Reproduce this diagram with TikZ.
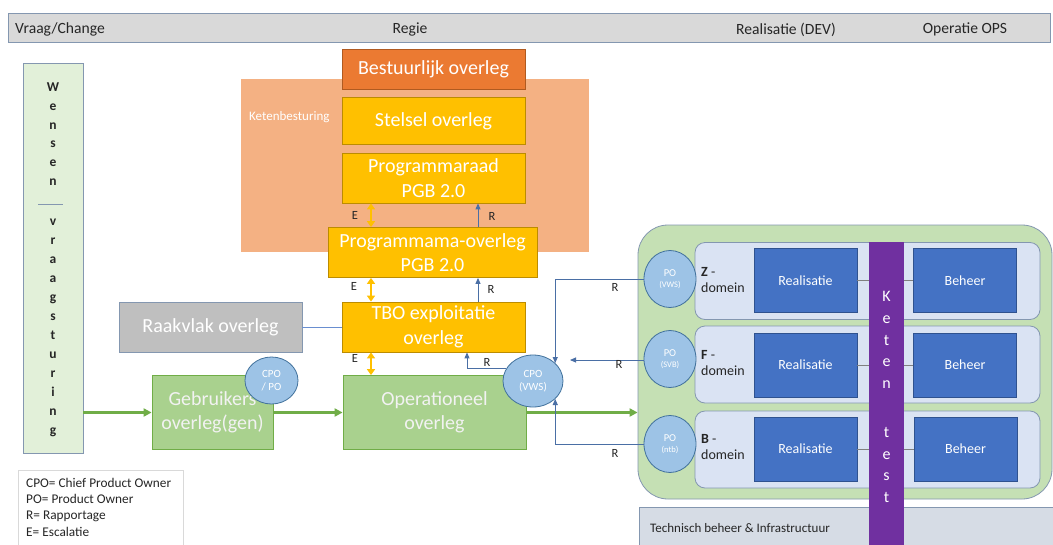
\documentclass[tikz,border=0pt]{standalone}
\usepackage{fontspec}
\setmainfont{Carlito}
\usetikzlibrary{arrows.meta,shapes.geometric}
\definecolor{hdrfill}{HTML}{D9D9D9}
\definecolor{bgray}{HTML}{8497B0}
\definecolor{wensfill}{HTML}{E2F0D9}
\definecolor{ketenbg}{HTML}{F4B183}
\definecolor{orng}{HTML}{EB7A32}
\definecolor{orngdk}{HTML}{B05A20}
\definecolor{yel}{HTML}{FFC000}
\definecolor{yeldk}{HTML}{BC8C00}
\definecolor{gryfill}{HTML}{BFBFBF}
\definecolor{grn}{HTML}{A9D18E}
\definecolor{grndk}{HTML}{70AD47}
\definecolor{circ}{HTML}{9DC3E6}
\definecolor{circdk}{HTML}{41719C}
\definecolor{biggrn}{HTML}{C5E0B4}
\definecolor{rowfill}{HTML}{DAE3F3}
\definecolor{blu}{HTML}{4472C4}
\definecolor{bludk}{HTML}{2F528F}
\definecolor{purp}{HTML}{7030A0}
\definecolor{techfill}{HTML}{D6DCE5}
\definecolor{rline}{HTML}{4A6FA5}
\definecolor{txt}{HTML}{262626}
\begin{document}
\begin{tikzpicture}[x=1pt,y=-1pt,
  fs/.style={font=\fontsize{#1pt}{#1pt}\selectfont},
  box/.style={draw, line width=0.8pt, inner sep=0pt, align=center, text=white, font=\fontsize{20}{24.5}\selectfont},
  ybox/.style={box, fill=yel, draw=yeldk},
  gbox/.style={box, fill=grn, draw=grndk, text=white!95!black},
  circnode/.style={ellipse, draw=circdk, fill=circ, line width=0.8pt, inner sep=0pt, align=center, text=white},
  rowbox/.style={draw=bgray, fill=rowfill, rounded corners=10pt, line width=0.8pt, minimum width=345, minimum height=77, inner sep=0pt},
  bbox/.style={draw=bludk, fill=blu, line width=0.8pt, minimum width=103, minimum height=64, inner sep=0pt, text=white, font=\fontsize{14}{16}\selectfont},
  garrow/.style={draw=grndk, line width=2.4pt, -{Triangle[length=8pt,width=8pt]}},
  earrow/.style={draw=yel, line width=2.2pt, {Triangle[length=6pt,width=8pt]}-{Triangle[length=6pt,width=8pt]}},
  rarrow/.style={draw=rline, line width=0.9pt, -{Triangle[length=6pt,width=5pt]}},
  rlab/.style={text=txt, font=\fontsize{12.5}{14}\selectfont, inner sep=0pt},
  gline/.style={draw=gray, line width=0.9pt}
]
\useasboundingbox (0,0) rectangle (1053,544);
\clip (0,0) rectangle (1053,544);
\fill[white] (0,0) rectangle (1053,544);

% header
\node (hdr) [draw=bgray, fill=hdrfill, line width=0.8pt, minimum width=1042, minimum height=29, inner sep=0pt] at (529,27.5) {};
\node (h1) [anchor=west, text=txt, fs=15.6, inner sep=0pt] at (15,29.5) {Vraag/Change};
\node (h2) [text=txt, fs=15.6, inner sep=0pt] at (410,29.5) {Regie};
\node (h3) [text=txt, fs=15.6, inner sep=0pt] at (786,29.5) {Realisatie (DEV)};
\node (h4) [text=txt, fs=15.6, inner sep=0pt] at (965,29.5) {Operatie OPS};

% wensen
\node (wens) [draw=bgray, fill=wensfill, line width=0.8pt, minimum width=60, minimum height=390, inner sep=0pt] at (53,258) {};
\node (w1) [text=txt, align=center, inner sep=0pt, font=\fontsize{13.5}{18.7}\selectfont\bfseries] at (53,134) {W\\e\\n\\s\\e\\n};
\draw[draw=bgray, line width=0.8pt] (38,204) -- (63,204);
\node (w2) [text=txt, align=center, inner sep=0pt, font=\fontsize{13.5}{19}\selectfont\bfseries] at (53,328) {v\\r\\a\\a\\g\\s\\t\\u\\r\\i\\n\\g};

% ketenbesturing
\node (keten) [fill=ketenbg, minimum width=348, minimum height=173, inner sep=0pt] at (415,165.5) {};
\node (ketlab) [anchor=west, text=white, fs=13, inner sep=0pt] at (249,117) {Ketenbesturing};

\node (best) [box, fill=orng, draw=orngdk, minimum width=183, minimum height=40] at (433.5,69) {Bestuurlijk overleg};
\node (stel) [ybox, minimum width=183, minimum height=47] at (433.5,121) {Stelsel overleg};
\node (praad) [ybox, minimum width=183, minimum height=50] at (433.5,178) {Programmaraad\\PGB 2.0};
\node (pmama) [ybox, minimum width=209, minimum height=50] at (432.5,252.5) {Programmama-overleg\\PGB 2.0};
\node (tbo) [ybox, minimum width=183, minimum height=50] at (433.5,327) {TBO exploitatie\\overleg};
\node (raak) [box, fill=gryfill, draw=bgray, minimum width=183, minimum height=50] at (210.5,327) {Raakvlak overleg};
\node (gebr) [gbox, minimum width=121, minimum height=74] at (212.5,412.5) {Gebruikers\\overleg(gen)};
\node (oper) [gbox, minimum width=183, minimum height=74] at (434.5,412.5) {Operationeel\\overleg};
\node (cpopo) [circnode, minimum width=53, minimum height=47, font=\fontsize{11}{13}\selectfont] at (271.5,380.5) {CPO\\/ PO};
\node (cpovws) [circnode, minimum width=60, minimum height=52, font=\fontsize{11}{13}\selectfont] at (533,381) {CPO\\(VWS)};

\draw[gline, draw=blu!80] (raak.east) -- (tbo.west);

% right block
\node (big) [draw=bgray, fill=biggrn, rounded corners=30pt, line width=0.8pt, minimum width=414, minimum height=274, inner sep=0pt] at (845,362) {};
\node (tech) [draw=bgray, fill=techfill, line width=0.8pt, minimum width=420, minimum height=50, inner sep=0pt, anchor=north west] at (639,507) {};
\node (techlab) [anchor=west, text=txt, fs=13, inner sep=0pt] at (650,528) {Technisch beheer \& Infrastructuur};

\node (row1) [rowbox] at (867.5,281) {};
\node (row2) [rowbox] at (867.5,364.5) {};
\node (row3) [rowbox] at (867.5,449.5) {};

\node (po1) [circnode, minimum width=52, minimum height=57] at (670,279) {\fontsize{10.5}{11}\selectfont PO\\[-1pt]\fontsize{8.5}{10}\selectfont(VWS)};
\node (po2) [circnode, minimum width=52, minimum height=57] at (670,359) {\fontsize{10.5}{11}\selectfont PO\\[-1pt]\fontsize{8.5}{10}\selectfont(SVB)};
\node (po3) [circnode, minimum width=52, minimum height=57] at (670,444) {\fontsize{10.5}{11}\selectfont PO\\[-1pt]\fontsize{8.5}{10}\selectfont(ntb)};

\node (d1) [anchor=west, align=left, text=txt, inner sep=0pt, font=\fontsize{14}{16}\selectfont] at (701,280) {\textbf{Z} -\\domein};
\node (d2) [anchor=west, align=left, text=txt, inner sep=0pt, font=\fontsize{14}{16}\selectfont] at (701,363) {\textbf{F} -\\domein};
\node (d3) [anchor=west, align=left, text=txt, inner sep=0pt, font=\fontsize{14}{16}\selectfont] at (701,447) {\textbf{B} -\\domein};

\node (real1) [bbox] at (805.5,280.5) {Realisatie};
\node (real2) [bbox] at (805.5,365) {Realisatie};
\node (real3) [bbox] at (805.5,449) {Realisatie};
\node (beh1) [bbox] at (965,280.5) {Beheer};
\node (beh2) [bbox] at (965,365) {Beheer};
\node (beh3) [bbox] at (965.5,449) {Beheer};

\node (bar) [fill=purp, minimum width=35, minimum height=310, inner sep=0pt, anchor=north] at (886.5,242) {};
\node (k1) [text=white, align=center, inner sep=0pt, font=\fontsize{16}{21.7}\selectfont] at (886.5,340) {K\\e\\t\\e\\n};
\node (k2) [text=white, align=center, inner sep=0pt, font=\fontsize{16}{21.7}\selectfont] at (886.5,465) {t\\e\\s\\t};

\foreach \r/\b in {real1/beh1, real2/beh2, real3/beh3} {
  \draw[gline] (\r.east) -- (bar.west |- \r.east);
  \draw[gline] (bar.east |- \b.west) -- (\b.west);
}

% green flow
\draw[garrow] (wens.east |- gebr.west) -- (gebr.west);
\draw[garrow] (gebr.east) -- (oper.west);
\draw[garrow] (oper.east) -- (big.west |- oper.east);

% E arrows
\coordinate (ex) at (371,0);
\draw[earrow] (praad.south -| ex) -- (pmama.north -| ex);
\draw[earrow] (pmama.south -| ex) -- (tbo.north -| ex);
\draw[earrow] (tbo.south -| ex) -- (oper.north -| ex);
\node (e1) [rlab] at (355,215) {E};
\node (e2) [rlab] at (354,286) {E};
\node (e3) [rlab] at (355,358) {E};

% R arrows
\coordinate (rx) at (478,0);
\coordinate (rx2) at (467,0);
\draw[rarrow] (pmama.north -| rx) -- (praad.south -| rx);
\draw[rarrow] (tbo.north -| rx) -- (pmama.south -| rx);
\draw[rarrow] (cpovws.155) -| (tbo.south -| rx2);
\node (r1) [rlab] at (492,216) {R};
\node (r2) [rlab] at (491,289) {R};
\node (r3) [rlab] at (487,362) {R};

\coordinate (r5end) at (570,360);
\draw[rarrow] (po1.west) -| (cpovws.39);
\draw[rarrow] (po2.west |- r5end) -- (r5end);
\draw[rarrow] (po3.west) -| (cpovws.-39);
\node (r4) [rlab] at (615,287) {R};
\node (r5) [rlab] at (619,364) {R};
\node (r6) [rlab] at (615,453) {R};

% legend
\draw[draw=black!15, line width=0.8pt] (18,470) rectangle (183,560);
\node (legend) [anchor=west, align=left, text=txt, inner sep=0pt, font=\fontsize{13.3}{16.3}\selectfont] at (26,507) {CPO= Chief Product Owner\\PO= Product Owner\\R= Rapportage\\E= Escalatie};
\end{tikzpicture}
\end{document}
